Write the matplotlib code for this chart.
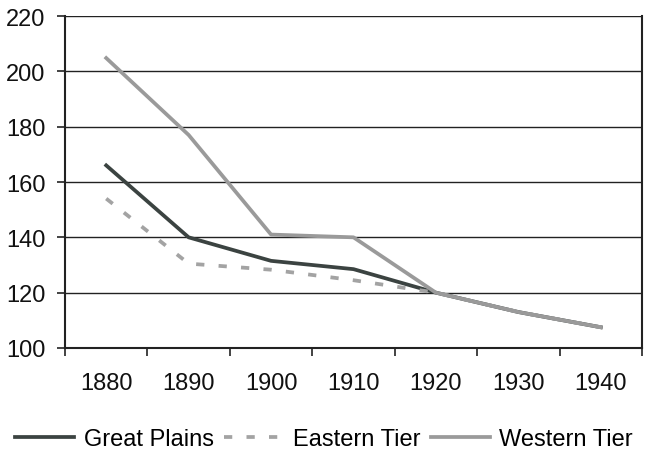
import matplotlib
matplotlib.use("Agg")
import matplotlib.pyplot as plt
import numpy as np

years = ["1880", "1890", "1900", "1910", "1920", "1930", "1940"]
great_plains = [166, 140, 131.5, 128.5, 120, 113, 107.5]
eastern_tier = [154, 130.5, 128.3, 124.5, 120, 113, 107.5]
western_tier = [204.8, 177, 141, 140, 120, 113, 107.5]

plt.rcParams['font.family'] = ['Liberation Sans', 'DejaVu Sans']

fig = plt.figure(figsize=(6.51, 4.56), dpi=100)
ax = fig.add_axes([65/651, (456-349)/456, (642-65)/651, (349-17)/456])

x = np.arange(len(years))
lw = 2.7
ax.plot(x, great_plains, color='#3b4341', lw=lw, label='Great Plains', zorder=3)
ax.plot(x, eastern_tier, color='#a3a3a3', lw=lw, dashes=(2.2, 3.8), label='Eastern Tier', zorder=3)
ax.plot(x, western_tier, color='#9a9a9a', lw=lw, label='Western Tier', zorder=4)

ax.set_xlim(-0.5, len(years) - 0.5)
ax.set_ylim(100, 220)
ax.set_yticks(np.arange(100, 221, 20))
ax.yaxis.grid(True, color='#222222', lw=1.0)
ax.set_axisbelow(True)

fs = 17
ax.set_xticks(x)
ax.set_xticklabels(years)
ax.set_xticks(np.arange(-0.5, len(years)), minor=True)
ax.tick_params(axis='x', which='major', length=0, pad=17, labelsize=fs, colors='#111111')
ax.tick_params(axis='x', which='minor', length=6, width=1.2, direction='out', color='#222222')
ax.tick_params(axis='y', length=6, width=1.2, direction='out', pad=8, labelsize=fs, color='#222222', labelcolor='#111111')

for s in ['left', 'bottom', 'right']:
    ax.spines[s].set_color('#222222')
    ax.spines[s].set_linewidth(1.5)
ax.spines['top'].set_visible(False)

ax.legend(loc='center', bbox_to_anchor=(324/651, 1 - 440/456), bbox_transform=fig.transFigure,
          ncol=3, frameon=False, fontsize=fs, handlelength=2.5, handletextpad=0.4,
          columnspacing=0.45, borderpad=0)

fig.savefig('out.png', dpi=100)
